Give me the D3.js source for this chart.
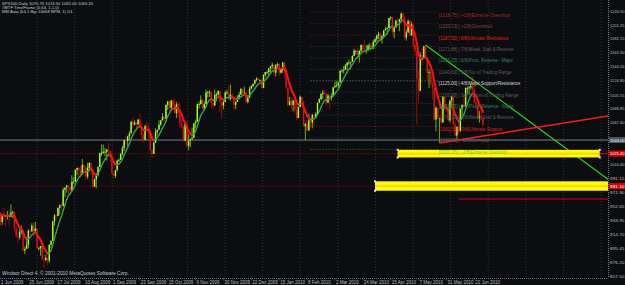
<!DOCTYPE html>
<html>
<head>
<meta charset="utf-8">
<script src="https://cdn.jsdelivr.net/npm/d3@7"></script>
<style>
  html, body { margin: 0; padding: 0; background: #0b0d10; }
  svg { display: block; font-family: "Liberation Sans", Arial, sans-serif; }
</style>
</head>
<body>
<div class="chart"></div>
<script>
// SPX500 daily bars, 1 Jun 2009 .. 29 Jun 2010 (one entry per bar, open = previous close)
var firstOpen = 923;
var closes = [943,945,932,942,940,939,942,939,945,946,924,912,911,918,921,893,895,901,920,919,927,919,
  923,896,896,899,881,880,883,879,901,906,933,941,940,951,955,954,976,979,982,980,975,987,987,
  1003,1006,1003,997,1010,1007,994,1006,1013,1004,980,990,996,1007,1026,1026,1028,1028,1031,1029,1021,
  998,995,1003,1016,1017,1025,1033,1044,1043,1049,1053,1069,1065,1068,1065,1072,1061,1051,1044,1063,1061,1057,
  1030,1025,1040,1055,1058,1065,1071,1076,1073,1092,1097,1088,1098,1091,1081,1093,1080,1067,1063,1043,1066,1036,
  1043,1045,1047,1067,1069,1093,1093,1099,1087,1093,1109,1110,1110,1095,1091,1106,1106,1111,1096,1091,1096,
  1109,1109,1100,1106,1103,1092,1096,1102,1106,1114,1108,1109,1096,1102,1114,1118,1121,1126,1128,1126,1126,1115,
  1133,1137,1137,1142,1145,1147,1136,1146,1148,1136,1140,1150,1138,1116,1092,1097,1092,1098,1085,1074,
  1089,1103,1097,1063,1066,1057,1071,1068,1078,1076,1080,1095,1100,1107,1109,1108,1095,1105,1103,1104,
  1116,1118,1119,1123,1139,1139,1140,1146,1150,1150,1151,1159,1166,1166,1160,1166,1174,1168,1166,1167,1173,1173,1169,
  1178,1182,1187,1189,1182,1186,1194,1196,1197,1211,1212,1192,1198,1207,1206,1209,1217,1212,1184,1191,1207,1187,
  1202,1174,1166,1128,1111,1160,1156,1172,1157,1136,1137,1121,1115,1072,1088,1074,1074,1068,1103,1089,1086,
  1071,1098,1103,1065,1050,1062,1056,1087,1092,1090,1115,1115,1116,1118,1113,1095,1092,1074,1077,1075,1065];
var highs = [947,950,945,943,951,941,947,949,956,947,942,928,919,923,927,922,898,911,922,922,930,931,
  932,923,898,899,899,887,887,883,901,907,933,943,942,952,956,959,979,979,982,982,977,996,993,
  1004,1006,1007,1009,1018,1010,1006,1013,1013,1013,999,991,999,1008,1027,1038,1038,1033,1032,1040,1025,
  1029,1000,1003,1017,1019,1026,1036,1044,1049,1050,1056,1070,1075,1071,1067,1073,1080,1067,1056,1065,1069,1066,
  1057,1031,1042,1060,1058,1071,1071,1081,1076,1093,1097,1097,1099,1099,1101,1096,1096,1095,1072,1063,1066,1070,
  1052,1046,1061,1067,1072,1094,1097,1105,1101,1097,1113,1111,1112,1106,1094,1113,1109,1112,1111,1097,1098,
  1111,1113,1118,1120,1108,1101,1097,1105,1110,1115,1114,1117,1106,1103,1117,1119,1121,1127,1130,1130,1127,1128,
  1134,1137,1139,1142,1145,1150,1143,1148,1150,1149,1142,1151,1147,1141,1115,1103,1103,1099,1102,1100,
  1090,1105,1103,1097,1068,1072,1080,1072,1080,1077,1082,1095,1101,1108,1112,1112,1108,1107,1103,1108,
  1117,1124,1125,1123,1139,1141,1145,1148,1150,1154,1151,1160,1169,1167,1170,1167,1175,1174,1181,1174,1175,1177,1174,
  1181,1184,1188,1192,1191,1188,1194,1199,1199,1211,1213,1211,1198,1209,1210,1210,1218,1220,1213,1195,1209,1208,
  1206,1197,1176,1167,1139,1164,1170,1173,1174,1157,1141,1148,1124,1108,1090,1089,1074,1090,1104,1103,1092,
  1094,1098,1105,1098,1070,1063,1078,1087,1092,1106,1116,1117,1118,1121,1131,1119,1099,1091,1084,1083,1074];
var lows = [923,938,926,928,934,926,935,927,939,937,919,911,903,908,915,892,888,896,896,913,919,912,
  920,896,893,886,879,869,878,873,876,896,910,927,934,940,942,948,953,966,972,969,968,976,984,
  988,996,994,993,1000,1000,990,991,1001,996,979,980,978,994,1009,1022,1026,1022,1016,1023,1014,
  996,991,992,1001,1014,1018,1023,1029,1038,1035,1043,1053,1061,1064,1057,1066,1060,1045,1041,1045,1057,1046,
  1029,1020,1025,1041,1050,1058,1063,1072,1069,1074,1085,1083,1086,1086,1080,1074,1075,1060,1060,1042,1043,1034,
  1030,1034,1045,1048,1060,1071,1087,1094,1085,1085,1094,1102,1103,1088,1087,1095,1097,1105,1082,1073,1086,
  1098,1106,1099,1098,1100,1086,1086,1097,1101,1106,1103,1107,1094,1094,1103,1114,1116,1120,1124,1126,1121,1115,
  1117,1130,1134,1131,1136,1141,1132,1131,1143,1131,1135,1136,1129,1114,1090,1091,1086,1083,1081,1071,
  1074,1090,1094,1063,1044,1056,1058,1061,1060,1063,1074,1079,1095,1098,1100,1105,1091,1095,1086,1098,
  1105,1116,1116,1112,1125,1136,1135,1140,1139,1147,1141,1151,1160,1161,1155,1150,1163,1164,1165,1162,1166,1167,1169,
  1170,1177,1179,1182,1179,1176,1186,1194,1188,1197,1208,1187,1183,1198,1199,1193,1206,1211,1181,1180,1192,1186,
  1188,1168,1158,1065,1095,1122,1147,1156,1156,1126,1115,1118,1100,1071,1056,1073,1040,1066,1070,1084,1082,
  1070,1068,1091,1063,1050,1042,1053,1057,1076,1089,1090,1106,1107,1113,1108,1094,1085,1072,1068,1071,1062];

// bottom axis: bar index and label
var dateIdx = [0,18,34,50,66,82,98,114,130,146,162,178,194,210,226,242,258,274];
var dateLabels = ["1 Jun 2009","25 Jun 2009","17 Jul 2009","10 Aug 2009","1 Sep 2009","23 Sep 2009",
  "15 Oct 2009","6 Nov 2009","30 Nov 2009","22 Dec 2009","15 Jan 2010","8 Feb 2010","2 Mar 2010",
  "24 Mar 2010","15 Apr 2010","7 May 2010","31 May 2010","22 Jun 2010"];

// right axis labels
var priceTicks = [1220.50,1201.25,1182.55,1163.30,1144.05,1124.80,1105.55,1086.85,1067.60,1048.35,
  1029.10,1010.40,991.15,971.90,952.65,933.95,914.70,895.45,876.20,857.50];

// murrey math levels
var mmLevels = [1218.75,1203.13,1187.50,1171.88,1156.25,1140.63,1125.00,1109.38,1093.75,1078.13,1062.50,1046.88,1031.25];
var mmNames = ["+2/8)Extreme Overshoot","+1/8)Overshoot","8/8)Ultimate Resistance","7/8)Weak, Stall & Reverse",
  "6/8)Pivot, Reverse - Major","5/8)Top of Trading Range","4/8)Major Support/Resistance","3/8)Bottom of Trading Range",
  "2/8)Pivot, Reverse - Major","1/8)Weak, Stall & Reverse","0/8)Ultimate Support","-1/8)Oversold","-2/8)Extreme Oversold"];
var mmFrom = 180, mmTo = 253;

// trend lines [bar, price]
var greenTrend = [[246,1174],[351,990]];
var redTrend = [[254,1040],[351,1077]];

// horizontal objects
var grayLine = 1044.00;
var zoneUpper = 1025.40, zoneUpperFrom = 230, zoneUpperTo = 346;
var zoneLower = 981.10, zoneLowerFrom = 217;
var redLine = 963.30, redLineFrom = 265;

var W = 625, H = 285, plotR = 608, plotB = 278;
var fs = 4.5, axisFs = 4.3;

var x = d3.scaleLinear().domain([0, 279]).range([-3, -3 + 279 * 1.742]);
var y = d3.scaleLinear().domain([857.5, 1220.5]).range([276.4, 11]);

var svg = d3.select('.chart').append('svg').attr('width', W).attr('height', H);
svg.append('rect').attr('width', W).attr('height', H).attr('fill', '#0b0d10');
svg.append('clipPath').attr('id', 'plot').append('rect')
  .attr('x', 0).attr('y', 0).attr('width', plotR).attr('height', plotB);
var g = svg.append('g').attr('clip-path', 'url(#plot)');

// vertical grid
g.selectAll('.vgrid').data(d3.range(37, plotR, 37.6)).enter().append('line')
  .attr('x1', d => d).attr('x2', d => d).attr('y1', 0).attr('y2', plotB)
  .attr('stroke', '#3a4046').attr('stroke-width', 0.8).attr('stroke-dasharray', '1,2');

// murrey math lines
var mmColors = ['#b52020','#7a4a44','#e81818','#5e5e5e','#2a8a5a','#5e5e5e','#d8d8d8','#5e5e5e','#2a8a5a','#5e5e5e','#e81818','#6a5a5a','#6ccc3a'];
g.selectAll('.mm').data(mmLevels).enter().append('line')
  .attr('x1', x(mmFrom)).attr('x2', x(mmTo))
  .attr('y1', d => y(d)).attr('y2', d => y(d))
  .attr('stroke', (d, i) => mmColors[i]).attr('stroke-opacity', 0.7)
  .attr('stroke-width', 0.8).attr('stroke-dasharray', '1,2');

// horizontal lines
g.append('line').attr('x1', 0).attr('x2', plotR).attr('y1', y(grayLine)).attr('y2', y(grayLine))
  .attr('stroke', '#7a7f84').attr('stroke-width', 1);
[zoneUpper, zoneLower].forEach(function (p) {
  g.append('line').attr('x1', 0).attr('x2', plotR).attr('y1', y(p)).attr('y2', y(p))
    .attr('stroke', '#c00000').attr('stroke-width', 0.9).attr('stroke-dasharray', '1,1.5');
});
g.append('line').attr('x1', x(redLineFrom)).attr('x2', plotR).attr('y1', y(redLine)).attr('y2', y(redLine))
  .attr('stroke', '#e00000').attr('stroke-width', 1);

// candles
var bars = closes.map(function (c, i) {
  var o = i === 0 ? firstOpen : closes[i - 1];
  return { i: i, o: o, c: c, h: Math.max(highs[i], o, c), l: Math.min(lows[i], o, c) };
});
g.selectAll('.wick').data(bars).enter().append('line')
  .attr('x1', d => x(d.i)).attr('x2', d => x(d.i))
  .attr('y1', d => y(d.h)).attr('y2', d => y(d.l))
  .attr('stroke', d => d.c >= d.o ? '#6fc410' : '#a30c0c').attr('stroke-width', 0.9);
g.selectAll('.body').data(bars).enter().append('rect')
  .attr('x', d => x(d.i) - 0.7).attr('width', 1.4)
  .attr('y', d => y(Math.max(d.o, d.c)))
  .attr('height', d => Math.max(0.8, Math.abs(y(d.o) - y(d.c))))
  .attr('fill', d => d.c >= d.o ? '#a6ff1e' : '#d81414');

// smoothed moving average coloured by slope
function ema(arr, n) {
  var k = 2 / (n + 1), out = [arr[0]];
  for (var i = 1; i < arr.length; i++) out.push(arr[i] * k + out[i - 1] * (1 - k));
  return out;
}
var ma = ema(ema(closes, 5), 3);
var segs = d3.range(1, ma.length).map(i => ({ i: i, a: ma[i - 1], b: ma[i], up: ma[i] >= ma[i - 1] }));
g.selectAll('.ma').data(segs).enter().append('line')
  .attr('x1', d => x(d.i - 1)).attr('x2', d => x(d.i))
  .attr('y1', d => y(d.a)).attr('y2', d => y(d.b))
  .attr('stroke', d => d.up ? '#2fa84a' : '#ff1010')
  .attr('stroke-width', d => d.up ? 1.3 : 2).attr('stroke-linecap', 'round');

// trend lines
g.append('line').attr('x1', x(greenTrend[0][0])).attr('y1', y(greenTrend[0][1]))
  .attr('x2', x(greenTrend[1][0])).attr('y2', y(greenTrend[1][1]))
  .attr('stroke', '#2ad22a').attr('stroke-width', 1.2);
g.append('line').attr('x1', x(redTrend[0][0])).attr('y1', y(redTrend[0][1]))
  .attr('x2', x(redTrend[1][0])).attr('y2', y(redTrend[1][1]))
  .attr('stroke', '#ff1a1a').attr('stroke-width', 1.4);

// yellow zones
function zone(p, from, to, hh) {
  var x0 = x(from), x1 = to == null ? plotR : x(to);
  g.append('rect').attr('x', x0).attr('y', y(p) - hh).attr('width', x1 - x0).attr('height', hh * 2).attr('fill', '#ffff00');
  g.append('rect').attr('x', x0).attr('y', y(p) - 1).attr('width', x1 - x0).attr('height', 2).attr('fill', '#ffd400');
  var hx = to == null ? [x0] : [x0, x1];
  hx.forEach(function (hxv) {
    [y(p) - hh, y(p) + hh].forEach(function (hy) {
      g.append('rect').attr('x', hxv - 1).attr('y', hy - 1).attr('width', 2).attr('height', 2).attr('fill', '#e8e8c8');
    });
  });
}
zone(zoneUpper, zoneUpperFrom, zoneUpperTo, 3.8);
zone(zoneLower, zoneLowerFrom, null, 4.7);
g.append('line').attr('x1', x(zoneUpperTo)).attr('x2', plotR).attr('y1', y(zoneUpper)).attr('y2', y(zoneUpper))
  .attr('stroke', '#e00000').attr('stroke-width', 1);

// murrey math labels
g.selectAll('.mmt').data(mmLevels).enter().append('text')
  .attr('x', x(mmTo) + 1).attr('y', d => y(d) + 4.4)
  .attr('font-size', fs).attr('fill', (d, i) => mmColors[i])
  .text((d, i) => '[' + d.toFixed(2) + '] | ' + mmNames[i]);

// axes frame
svg.append('line').attr('x1', plotR + 0.5).attr('x2', plotR + 0.5).attr('y1', 0).attr('y2', plotB)
  .attr('stroke', '#6a7078').attr('stroke-dasharray', '1,1');
svg.append('line').attr('x1', 0).attr('x2', plotR).attr('y1', plotB + 0.5).attr('y2', plotB + 0.5)
  .attr('stroke', '#6a7078').attr('stroke-dasharray', '1,1');

// right axis labels (the ones under a price tag are hidden, as on the terminal)
var tags = [grayLine, zoneUpper, zoneLower];
var shownTicks = priceTicks.filter(p => tags.every(t => Math.abs(y(t) - y(p)) > 5));
svg.selectAll('.pt').data(shownTicks).enter().append('text')
  .attr('x', plotR + 2).attr('y', d => y(d) + 1.5)
  .attr('font-size', axisFs).attr('textLength', 14.5).attr('lengthAdjust', 'spacingAndGlyphs')
  .attr('fill', '#b8bcc0').text(d => d.toFixed(2));
svg.selectAll('.ptk').data(priceTicks).enter().append('line')
  .attr('x1', plotR).attr('x2', plotR + 1.5).attr('y1', d => y(d)).attr('y2', d => y(d))
  .attr('stroke', '#6a7078').attr('stroke-width', 0.6);

function tag(p, bg) {
  svg.append('rect').attr('x', plotR + 1).attr('y', y(p) - 3).attr('width', W - plotR - 1).attr('height', 6).attr('fill', bg);
  svg.append('text').attr('x', plotR + 2).attr('y', y(p) + 1.5)
    .attr('font-size', axisFs).attr('textLength', 14.5).attr('lengthAdjust', 'spacingAndGlyphs')
    .attr('fill', '#ffffff').text(p.toFixed(2));
}
tag(grayLine, '#4c5660');
tag(zoneUpper, '#e00000');
tag(zoneLower, '#e00000');

// bottom axis
svg.selectAll('.dt').data(dateIdx).enter().append('text')
  .attr('x', d => Math.max(1, x(d) + 1)).attr('y', 283.5)
  .attr('font-size', fs).attr('fill', '#b8bcc0')
  .text((d, i) => dateLabels[i]);
svg.selectAll('.dtk').data(dateIdx.slice(1)).enter().append('line')
  .attr('x1', d => x(d)).attr('x2', d => x(d)).attr('y1', plotB).attr('y2', plotB + 2.5)
  .attr('stroke', '#6a7078').attr('stroke-width', 0.6);

// header and footer text
var header = ["SPX500,Daily  1070.75 1074.50 1062.00 1065.25",
  "#MTF TimeFrame (0,64, 1,1,0)",
  "MM Auto (64,1 Bgr 16668 BPM, 1) D1"];
svg.selectAll('.hd').data(header).enter().append('text')
  .attr('x', 2).attr('y', (d, i) => 5 + i * 4.2)
  .attr('font-size', 4.2).attr('fill', '#c8ccd0').text(d => d);
svg.append('text').attr('x', 2).attr('y', 275).attr('font-size', 4.8).attr('fill', '#c8ccd0')
  .text('Windsor Direct 4, \u00a9 2001-2010 MetaQuotes Software Corp.');
</script>
</body>
</html>
